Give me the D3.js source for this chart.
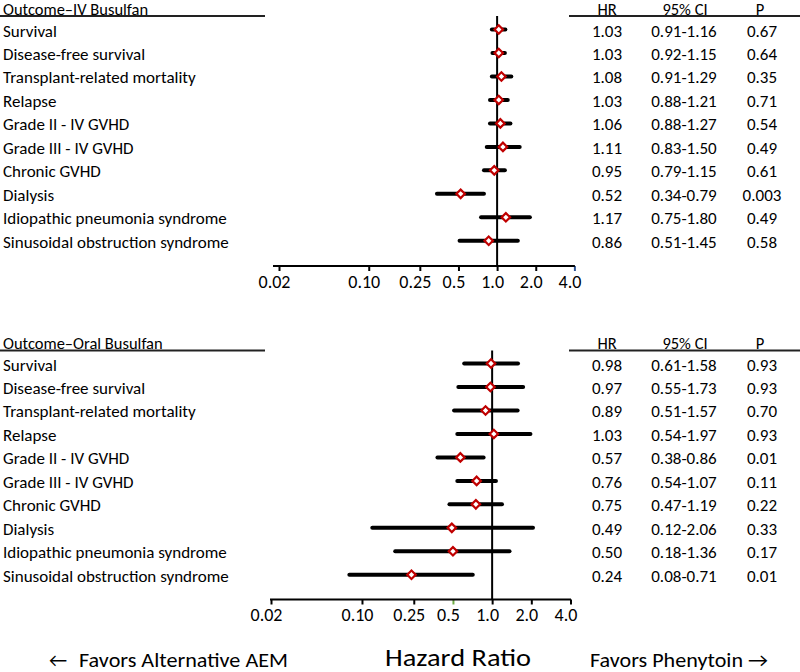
<!DOCTYPE html>
<html>
<head>
<meta charset="utf-8">
<script src="https://cdn.jsdelivr.net/npm/d3@7"></script>
<style>
  html, body { margin: 0; padding: 0; background: #fff; }
  svg { display: block; font-family: Carlito, Lato, "Open Sans", sans-serif; }
</style>
</head>
<body>
<svg id="chart" width="800" height="672"></svg>
<script>
const outcomes = ["Survival", "Disease-free survival", "Transplant-related mortality", "Relapse",
  "Grade II - IV GVHD", "Grade III - IV GVHD", "Chronic GVHD", "Dialysis",
  "Idiopathic pneumonia syndrome", "Sinusoidal obstruction syndrome"];

const ivHR  = [1.03, 1.03, 1.08, 1.03, 1.06, 1.11, 0.95, 0.52, 1.17, 0.86];
const ivLo  = [0.91, 0.92, 0.91, 0.88, 0.88, 0.83, 0.79, 0.34, 0.75, 0.51];
const ivHi  = [1.16, 1.15, 1.29, 1.21, 1.27, 1.50, 1.15, 0.79, 1.80, 1.45];
const ivP   = ["0.67", "0.64", "0.35", "0.71", "0.54", "0.49", "0.61", "0.003", "0.49", "0.58"];

const oralHR = [0.98, 0.97, 0.89, 1.03, 0.57, 0.76, 0.75, 0.49, 0.50, 0.24];
const oralLo = [0.61, 0.55, 0.51, 0.54, 0.38, 0.54, 0.47, 0.12, 0.18, 0.08];
const oralHi = [1.58, 1.73, 1.57, 1.97, 0.86, 1.07, 1.19, 2.06, 1.36, 0.71];
const oralP  = ["0.93", "0.93", "0.70", "0.93", "0.01", "0.11", "0.22", "0.33", "0.17", "0.01"];

const tickValues = [0.02, 0.10, 0.25, 0.5, 1.0, 2.0, 4.0];
const tickLabels = ["0.02", "0.10", "0.25", "0.5", "1.0", "2.0", "4.0"];
const tableHeaders = ["HR", "95% CI", "P"];
const panelTitles = ["Outcome\u2013IV Busulfan", "Outcome\u2013Oral Busulfan"];

const fmt2 = d3.format(".2f");
const svg = d3.select("#chart");
const FS = 17;

const panels = [
  { title: panelTitles[0], hr: ivHR, lo: ivLo, hi: ivHi, p: ivP,
    top: 16, rowStart: 29.5, rowEnd: 240.8, axisY: 266, xRange: [279, 574.4], axisStart: 273, specialTick: 4.0, specialColor: "#2f5597" },
  { title: panelTitles[1], hr: oralHR, lo: oralLo, hi: oralHi, p: oralP,
    top: 350.5, rowStart: 363.5, rowEnd: 574.8, axisY: 599.5, xRange: [271, 570.5], axisStart: 270, specialTick: 0.5, specialColor: "#70ad47" }
];

const colHR = 607, colCI = 684, colP = 762;

panels.forEach(pn => {
  const g = svg.append("g");
  const x = d3.scaleLog().domain([0.02, 4.0]).range(pn.xRange);
  const y = d3.scalePoint().domain(outcomes).range([pn.rowStart, pn.rowEnd]);

  // header
  g.append("text").attr("x", 3).attr("y", pn.top - 1.5)
    .attr("font-size", 16.5).attr("fill", "#000")
    .text(pn.title);
  g.append("line").attr("x1", 0).attr("x2", 265).attr("y1", pn.top).attr("y2", pn.top)
    .attr("stroke", "#222").attr("stroke-width", 1.8);
  g.append("line").attr("x1", 569).attr("x2", 800).attr("y1", pn.top).attr("y2", pn.top)
    .attr("stroke", "#222").attr("stroke-width", 1.8);
  g.selectAll(".hdr").data(tableHeaders).join("text")
    .attr("x", (d, i) => [colHR, colCI + 1, colP - 2][i])
    .attr("y", pn.top - 1.5)
    .attr("text-anchor", "middle")
    .attr("font-size", 16.5).text(d => d);

  // row labels
  g.selectAll(".lbl").data(outcomes).join("text")
    .attr("x", 3).attr("y", d => y(d) + 1.5)
    .attr("dominant-baseline", "central").attr("font-size", FS).text(d => d);

  // table values
  outcomes.forEach((o, i) => {
    const yy = y(o) + 1.5;
    g.append("text").attr("x", colHR).attr("y", yy).attr("text-anchor", "middle")
      .attr("dominant-baseline", "central").attr("font-size", FS).text(fmt2(pn.hr[i]));
    g.append("text").attr("x", colCI).attr("y", yy).attr("text-anchor", "middle")
      .attr("dominant-baseline", "central").attr("font-size", FS)
      .text(fmt2(pn.lo[i]) + "-" + fmt2(pn.hi[i]));
    g.append("text").attr("x", colP).attr("y", yy).attr("text-anchor", "middle")
      .attr("dominant-baseline", "central").attr("font-size", FS).text(pn.p[i]);
  });

  // reference line at 1.0
  g.append("line").attr("x1", x(1)).attr("x2", x(1)).attr("y1", pn.top).attr("y2", pn.axisY)
    .attr("stroke", "#000").attr("stroke-width", 2);

  // axis
  const axis = d3.axisBottom(x).tickValues(tickValues)
    .tickFormat((d, i) => tickLabels[i]).tickSize(5).tickSizeOuter(0);
  const ax = g.append("g").attr("transform", `translate(0,${pn.axisY})`).call(axis);
  ax.select(".domain").remove();
  ax.append("line").attr("x1", pn.axisStart).attr("x2", pn.xRange[1] + 0.5)
    .attr("y1", 0).attr("y2", 0).attr("stroke", "#000").attr("stroke-width", 2);
  ax.selectAll(".tick line").attr("stroke", d => d === pn.specialTick ? pn.specialColor : "#000")
    .attr("stroke-width", 2);
  ax.selectAll(".tick text").attr("fill", "#000").attr("font-size", 18)
    .attr("font-family", "Carlito, Lato, 'Open Sans', sans-serif")
    .attr("dx", -5).attr("y", 9).attr("dy", "0.71em");

  // CI lines
  g.selectAll(".ci").data(outcomes).join("line")
    .attr("x1", (d, i) => x(pn.lo[i])).attr("x2", (d, i) => x(pn.hi[i]))
    .attr("y1", d => y(d)).attr("y2", d => y(d))
    .attr("stroke", "#000").attr("stroke-width", 4).attr("stroke-linecap", "round");

  // diamonds
  const sym = d3.symbol().type(d3.symbolSquare).size(36);
  g.selectAll(".pt").data(outcomes).join("path")
    .attr("d", sym)
    .attr("transform", (d, i) => `translate(${x(pn.hr[i])},${y(d)}) rotate(45)`)
    .attr("fill", "#fff").attr("stroke", "#c00000").attr("stroke-width", 2.2);
});

// bottom annotations
svg.append("text").attr("x", 49).attr("y", 667).attr("font-size", 20).text("\u2190");
svg.append("text").attr("x", 79).attr("y", 667).attr("font-size", 20)
  .attr("textLength", 209).attr("lengthAdjust", "spacingAndGlyphs").text("Favors Alternative AEM");
svg.append("text").attr("x", 385).attr("y", 666).attr("font-size", 24)
  .attr("textLength", 146).attr("lengthAdjust", "spacingAndGlyphs").text("Hazard Ratio");
svg.append("text").attr("x", 590).attr("y", 667).attr("font-size", 20)
  .attr("textLength", 178).attr("lengthAdjust", "spacingAndGlyphs").text("Favors Phenytoin \u2192");
</script>
</body>
</html>
